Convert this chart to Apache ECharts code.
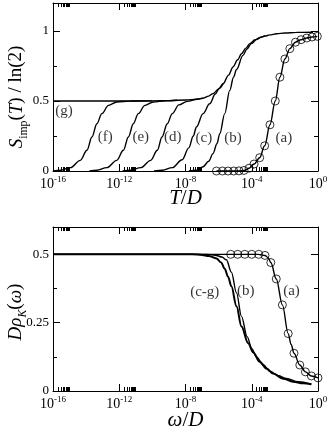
<!DOCTYPE html>
<html>
<head>
<meta charset="utf-8">
<script src="https://cdn.jsdelivr.net/npm/echarts@6/dist/echarts.min.js"></script>
<style>
html, body { margin: 0; padding: 0; background: #fff; }
#chart { width: 328px; height: 436px; }
</style>
</head>
<body>
<div id="chart"></div>
<script>
// x values are log10(T/D) and log10(omega/D)
const xTicks = [-16, -12, -8, -4, 0]
const minorMult = [2, 3, 4, 5, 6, 7, 8, 9]
const topYTicks = [0, 0.5, 1]
const topYMinor = [0.25, 0.75]
const botYTicks = [0, 0.25, 0.5]
const botYMinor = [0.125, 0.375]

// upper panel: S_imp(T) / ln(2)
const topG = [[-16, 0.5], [-12, 0.5], [-10, 0.501], [-9, 0.503], [-8, 0.507], [-7.3, 0.513], [-6.94, 0.52], [-6.6, 0.535], [-6.34, 0.553], [-6.0, 0.585], [-5.73, 0.624], [-5.4, 0.685], [-5.13, 0.743], [-4.85, 0.795], [-4.62, 0.838], [-4.35, 0.878], [-4.12, 0.91], [-3.8, 0.937], [-3.52, 0.953], [-3.2, 0.964], [-2.91, 0.972], [-2.5, 0.98], [-2, 0.986], [-1.3, 0.99], [-0.3, 0.991]]
const topF = [[-16, 0], [-15.55, 0.005], [-14.95, 0.024], [-14.35, 0.076], [-13.95, 0.148], [-13.65, 0.243], [-13.35, 0.338], [-13.05, 0.41], [-12.65, 0.469], [-12.15, 0.493], [-11.35, 0.5], [-10, 0.501]]
const topE = [[-13.8, 0], [-13.35, 0.005], [-12.75, 0.024], [-12.15, 0.076], [-11.75, 0.148], [-11.45, 0.243], [-11.15, 0.338], [-10.85, 0.41], [-10.45, 0.469], [-9.95, 0.493], [-9.2, 0.501], [-8.5, 0.505]]
const topD = [[-11.8, 0], [-11.3, 0.005], [-10.7, 0.024], [-10.1, 0.076], [-9.7, 0.148], [-9.42, 0.243], [-9.1, 0.338], [-8.8, 0.41], [-8.4, 0.472], [-7.9, 0.497], [-7.3, 0.512], [-6.94, 0.52]]
const topC = [[-9.9, 0], [-9.4, 0.005], [-8.8, 0.024], [-8.2, 0.08], [-7.8, 0.165], [-7.53, 0.25], [-7.34, 0.314], [-6.94, 0.41], [-6.54, 0.48], [-6.2, 0.55], [-5.95, 0.592], [-5.73, 0.624]]
const topB = [[-7.8, 0], [-7.3, 0.005], [-6.94, 0.03], [-6.6, 0.07], [-6.34, 0.124], [-6.1, 0.195], [-5.93, 0.267], [-5.63, 0.41], [-5.33, 0.576], [-5.1, 0.67], [-4.92, 0.725], [-4.53, 0.826], [-4.3, 0.87], [-4.02, 0.91], [-3.7, 0.94], [-3.4, 0.958], [-3.2, 0.965]]
const topA = [[-6.13, 0], [-5.77, 0], [-5.43, 0], [-5.09, 0], [-4.77, 0.001], [-4.47, 0.004], [-4.16, 0.02], [-3.86, 0.05], [-3.52, 0.095], [-3.22, 0.18], [-2.9, 0.33], [-2.58, 0.5], [-2.3, 0.67], [-2.0, 0.8], [-1.7, 0.874], [-1.36, 0.92], [-1.02, 0.938], [-0.68, 0.95], [-0.36, 0.957], [-0.04, 0.962]]

// lower panel: D rho_K(omega)
const botA = [[-16, 0.5], [-6, 0.5], [-3.6, 0.5], [-3.2, 0.496], [-3.0, 0.487], [-2.85, 0.47], [-2.52, 0.41], [-2.15, 0.315], [-1.8, 0.21], [-1.62, 0.17], [-1.45, 0.138], [-1.1, 0.095], [-0.76, 0.07], [-0.4, 0.055], [0, 0.048]]
const botACircles = [[-5.27, 0.5], [-4.85, 0.5], [-4.42, 0.5], [-4.0, 0.5], [-3.58, 0.5], [-3.2, 0.496], [-2.85, 0.47], [-2.52, 0.41], [-2.15, 0.315], [-1.8, 0.21], [-1.45, 0.138], [-1.1, 0.095], [-0.76, 0.07], [-0.4, 0.055], [0, 0.048]]
const botB = [[-16, 0.5], [-7, 0.5], [-6.5, 0.499], [-6.13, 0.496], [-5.8, 0.49], [-5.53, 0.48], [-5.23, 0.435], [-4.92, 0.359], [-4.62, 0.273], [-4.28, 0.199], [-4.0, 0.155], [-3.72, 0.125], [-3.3, 0.095], [-2.91, 0.072], [-2.4, 0.056], [-1.91, 0.046], [-1.2, 0.034], [-0.4, 0.025]]
const botCG = [[-16, 0.5], [-7.6, 0.5], [-7.0, 0.498], [-6.6, 0.494], [-6.13, 0.485], [-5.85, 0.47], [-5.63, 0.447], [-5.43, 0.418], [-5.23, 0.383], [-4.92, 0.31], [-4.62, 0.236], [-4.22, 0.175], [-3.9, 0.14], [-3.52, 0.107], [-3.1, 0.082], [-2.71, 0.064], [-2.1, 0.045], [-1.51, 0.034], [-0.9, 0.028], [-0.4, 0.025]]

// curve labels
const topLabelText = ['(a)', '(b)', '(c)', '(d)', '(e)', '(f)', '(g)']
const topLabelX = [-2.06, -5.13, -6.89, -8.77, -10.7, -12.85, -15.34]
const topLabelY = [0.237, 0.237, 0.237, 0.243, 0.243, 0.243, 0.428]
const botLabelText = ['(a)', '(b)', '(c-g)']
const botLabelX = [-1.6, -4.36, -6.84]
const botLabelY = [0.365, 0.365, 0.362]

const SERIF = "'Liberation Serif', 'DejaVu Serif', serif"
const xMinor = []
xTicks.slice(0, 4).forEach(m => minorMult.forEach(k => xMinor.push(m + Math.log10(k))))

const line = {color: '#000', width: 1}

function nameRich(size) {
    return {
        i: {fontFamily: SERIF, fontStyle: 'italic', fontSize: size, color: '#000'},
        r: {fontFamily: SERIF, fontSize: size, color: '#000'},
        sub: {fontFamily: SERIF, fontSize: size * 0.62, color: '#000', verticalAlign: 'bottom', padding: [0, 0, -4, 0]},
        subi: {fontFamily: SERIF, fontStyle: 'italic', fontSize: size * 0.62, color: '#000', verticalAlign: 'bottom', padding: [0, 0, -4, 0]}
    }
}

function xAxes(grid, name, nameGap) {
    const base = {gridIndex: grid, type: 'value', min: -16, max: 0, interval: 4,
        splitLine: {show: false}, axisLine: {show: true, onZero: false, lineStyle: line}}
    const hidden = {gridIndex: grid, type: 'value', min: -16, max: 0, interval: 4,
        splitLine: {show: false}, axisLine: {show: false, onZero: false}, axisLabel: {show: false}}
    return [
        Object.assign({}, base, {
            position: 'bottom',
            axisTick: {inside: true, length: 7, customValues: xTicks, lineStyle: line},
            axisLabel: {
                customValues: xTicks, margin: 4,
                formatter: v => '{b|10}{s|' + v + '}',
                rich: {
                    b: {fontFamily: SERIF, fontSize: 14, color: '#000', lineHeight: 18},
                    s: {fontFamily: SERIF, fontSize: 9, color: '#000', verticalAlign: 'top', lineHeight: 10}
                }
            },
            name: name, nameLocation: 'middle', nameGap: nameGap, nameMoveOverlap: false,
            nameTextStyle: {rich: nameRich(21)}
        }),
        Object.assign({}, hidden, {position: 'bottom', axisTick: {inside: true, length: 4, customValues: xMinor, lineStyle: line}}),
        Object.assign({}, base, {position: 'top', axisTick: {inside: true, length: 7, customValues: xTicks, lineStyle: line}, axisLabel: {show: false}}),
        Object.assign({}, hidden, {position: 'top', axisTick: {inside: true, length: 4, customValues: xMinor, lineStyle: line}})
    ]
}

function yAxes(grid, max, ticks, minor, name, nameGap, namePad) {
    const base = {gridIndex: grid, type: 'value', min: 0, max: max,
        splitLine: {show: false}, axisLine: {show: true, onZero: false, lineStyle: line}}
    const hidden = {gridIndex: grid, type: 'value', min: 0, max: max,
        splitLine: {show: false}, axisLine: {show: false, onZero: false}, axisLabel: {show: false}}
    return [
        Object.assign({}, base, {
            position: 'left',
            axisTick: {inside: true, length: 7, customValues: ticks, lineStyle: line},
            axisLabel: {customValues: ticks, margin: 4, fontFamily: SERIF, fontSize: 13, color: '#000', formatter: v => String(v)},
            name: name, nameLocation: 'middle', nameGap: nameGap, nameMoveOverlap: false,
            nameTextStyle: {rich: nameRich(19), padding: namePad}
        }),
        Object.assign({}, hidden, {position: 'left', axisTick: {inside: true, length: 4, customValues: minor, lineStyle: line}}),
        Object.assign({}, base, {position: 'right', axisTick: {inside: true, length: 7, customValues: ticks, lineStyle: line}, axisLabel: {show: false}}),
        Object.assign({}, hidden, {position: 'right', axisTick: {inside: true, length: 4, customValues: minor, lineStyle: line}})
    ]
}

function curve(data, axis, width) {
    return {type: 'line', data: data, xAxisIndex: axis, yAxisIndex: axis, showSymbol: false, symbol: 'none',
        smooth: 0.35, smoothMonotone: 'x', lineStyle: {color: '#000', width: width || 1.4}, silent: true}
}

function circles(data, axis) {
    return {type: 'scatter', data: data, xAxisIndex: axis, yAxisIndex: axis, symbol: 'circle', symbolSize: 8, clip: false,
        itemStyle: {color: 'rgba(0,0,0,0)', borderColor: '#000', borderWidth: 1}, silent: true, z: 5}
}

function labels(text, xs, ys, axis) {
    return {type: 'scatter', xAxisIndex: axis, yAxisIndex: axis, symbolSize: 1, silent: true,
        itemStyle: {color: 'rgba(0,0,0,0)'},
        data: text.map((t, i) => ({name: t, value: [xs[i], ys[i]]})),
        label: {show: true, position: 'inside', formatter: p => p.name, fontFamily: SERIF, fontSize: 15, color: '#000'}}
}

let chart = echarts.init(document.getElementById('chart'), null, {renderer: 'canvas'})
chart.setOption({
    animation: false,
    backgroundColor: '#fff',
    grid: [
        {left: 53, top: 3, width: 265, height: 168, outerBoundsMode: 'none', containLabel: false},
        {left: 53, top: 227, width: 265, height: 164, outerBoundsMode: 'none', containLabel: false}
    ],
    xAxis: [].concat(
        xAxes(0, '{i|T}{r|/}{i|D}', 17),
        xAxes(1, '{i|ω}{r|/}{i|D}', 19)
    ),
    yAxis: [].concat(
        yAxes(0, 1.2, topYTicks, topYMinor, '{i|S}{sub|imp}{r|(}{i|T}{r|) / ln(2)}', 27, [0, 20, 0, 0]),
        yAxes(1, 0.6, botYTicks, botYMinor, '{i|Dρ}{subi|K}{r|(}{i|ω}{r|)}', 28, [0, 6, 0, 0])
    ),
    series: [
        curve(topG, 0), curve(topF, 0), curve(topE, 0), curve(topD, 0), curve(topC, 0), curve(topB, 0),
        curve(topA, 0), circles(topA, 0),
        labels(topLabelText, topLabelX, topLabelY, 0),
        curve(botA, 4), curve(botB, 4), curve(botCG, 4, 2), circles(botACircles, 4),
        labels(botLabelText, botLabelX, botLabelY, 4)
    ]
})
</script>
</body>
</html>
